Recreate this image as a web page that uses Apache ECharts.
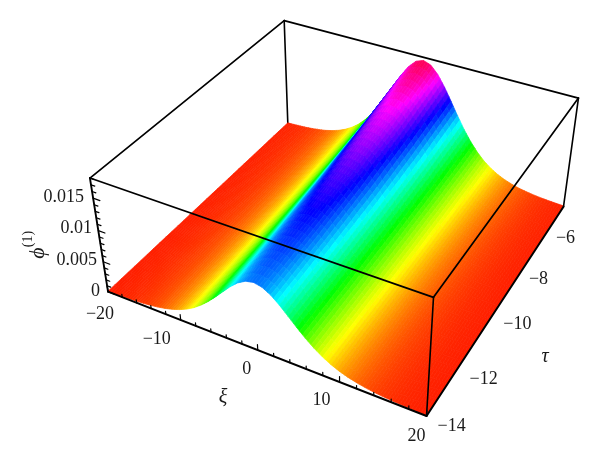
<!DOCTYPE html>
<html><head><meta charset="utf-8">
<style>html,body{margin:0;padding:0;background:#fff}#c{width:600px;height:469px}</style>
<script src="https://cdn.jsdelivr.net/npm/echarts@6/dist/echarts.min.js"></script>
</head><body><div id="c"></div>
<script>
const xiValues=[-20,-19,-18,-17,-16,-15,-14,-13,-12,-11,-10,-9,-8,-7,-6,-5,-4,-3,-2,-1,0,1,2,3,4,5,6,7,8,9,10,11,12,13,14,15,16,17,18,19,20];
const tauValues=[-14,-12,-10,-8,-6];
const phiTauM14=[.00008,.00011,.00016,.00021,.00029,.00039,.00053,.00072,.00098,.00131,.00175,.00232,.00304,.00394,.005,.0062,.00748,.00874,.00981,.01054,.0108,.01054,.00981,.00874,.00748,.0062,.005,.00394,.00304,.00232,.00175,.00131,.00098,.00072,.00053,.00039,.00029,.00021,.00016,.00011,.00008];
const phiTauM12=[.00009,.00013,.00017,.00024,.00032,.00044,.00059,.0008,.00108,.00146,.00194,.00257,.00338,.00438,.00555,.00689,.00831,.00971,.0109,.01171,.012,.01171,.0109,.00971,.00831,.00689,.00555,.00438,.00338,.00257,.00194,.00146,.00108,.0008,.00059,.00044,.00032,.00024,.00017,.00013,.00009];
const phiTauM10=[.0001,.00014,.00019,.00026,.00036,.00049,.00066,.0009,.00121,.00163,.00217,.00287,.00377,.00489,.0062,.00769,.00928,.01084,.01218,.01308,.0134,.01308,.01218,.01084,.00928,.00769,.0062,.00489,.00377,.00287,.00217,.00163,.00121,.0009,.00066,.00049,.00036,.00026,.00019,.00014,.0001];
const phiTauM8=[.00012,.00016,.00022,.0003,.00041,.00055,.00075,.00102,.00137,.00185,.00246,.00326,.00428,.00554,.00703,.00872,.01053,.0123,.01381,.01484,.0152,.01484,.01381,.0123,.01053,.00872,.00703,.00554,.00428,.00326,.00246,.00185,.00137,.00102,.00075,.00055,.00041,.0003,.00022,.00016,.00012];
const phiTauM6=[.00014,.00019,.00025,.00034,.00047,.00064,.00086,.00117,.00158,.00212,.00284,.00375,.00493,.00638,.0081,.01005,.01213,.01416,.0159,.01708,.0175,.01708,.0159,.01416,.01213,.01005,.0081,.00638,.00493,.00375,.00284,.00212,.00158,.00117,.00086,.00064,.00047,.00034,.00025,.00019,.00014];
const phiRows=[phiTauM14,phiTauM12,phiTauM10,phiTauM8,phiTauM6];
const xiTicks=[-20,-10,0,10,20];
const tauTicks=[-14,-12,-10,-8,-6];
const phiTicks=[0,0.005,0.01,0.015];
const phiTickText=['0','0.005','0.01','0.015'];

const XI=[-20,20],TAU=[-14,-6],PHI=[0,0.018],PEAK=0.0175;
// calibration of the view: box corner (xi index, tau index, phi index) -> pixel
const calib=[[0,0,0,108,292],[1,0,0,427,416],[1,1,0,563,207],[0,1,0,288,123],[0,0,1,90,178],[1,0,1,433,297],[1,1,1,579,98],[0,1,1,284,21]];
function solve(A,b){const n=b.length;for(let i=0;i<n;i++){let m=i;for(let r=i+1;r<n;r++)if(Math.abs(A[r][i])>Math.abs(A[m][i]))m=r;[A[i],A[m]]=[A[m],A[i]];[b[i],b[m]]=[b[m],b[i]];for(let r=i+1;r<n;r++){const f=A[r][i]/A[i][i];for(let c=i;c<n;c++)A[r][c]-=f*A[i][c];b[r]-=f*b[i];}}
 const x=Array(n);for(let i=n-1;i>=0;i--){let s=b[i];for(let c=i+1;c<n;c++)s-=A[i][c]*x[c];x[i]=s/A[i][i];}return x;}
const P=(function(){const n=11,A=[...Array(n)].map(()=>Array(n).fill(0)),b=Array(n).fill(0);
 const add=(r,v)=>{for(let i=0;i<n;i++){for(let j=0;j<n;j++)A[i][j]+=r[i]*r[j];b[i]+=r[i]*v;}};
 calib.forEach(([X,Y,Z,u,v])=>{add([X,Y,Z,1,0,0,0,0,-u*X,-u*Y,-u*Z],u);add([0,0,0,0,X,Y,Z,1,-v*X,-v*Y,-v*Z],v);});
 return solve(A,b);})();
function proj(xi,tau,phi){const X=(xi-XI[0])/(XI[1]-XI[0]),Y=(tau-TAU[0])/(TAU[1]-TAU[0]),Z=(phi-PHI[0])/(PHI[1]-PHI[0]);
 const w=P[8]*X+P[9]*Y+P[10]*Z+1;return [(P[0]*X+P[1]*Y+P[2]*Z+P[3])/w,(P[4]*X+P[5]*Y+P[6]*Z+P[7])/w];}
function color(z){const h=(0.015+Math.min(1,Math.max(0,z/PEAK))*0.935)*360;return 'hsl('+h.toFixed(1)+',100%,50%)';}
const SUBX=3,SUBT=8;
function surfaceItem(params,api){
 const i=api.value(0),j=api.value(1);
 const x0=xiValues[i],x1=xiValues[i+1],t0=tauValues[j],t1=tauValues[j+1];
 const r0=phiRows[j],r1=phiRows[j+1];
 const f=(u,v)=>{const a=r0[i]*(1-u)+r0[i+1]*u,c=r1[i]*(1-u)+r1[i+1]*u;return a*(1-v)+c*v;};
 const pt=(u,v)=>api.coord(proj(x0+(x1-x0)*u,t0+(t1-t0)*v,f(u,v)));
 const children=[];
 for(let b=SUBT-1;b>=0;b--)for(let a=0;a<SUBX;a++){
  const u0=a/SUBX,u1=(a+1)/SUBX,v0=b/SUBT,v1=(b+1)/SUBT;
  const col=color(f((u0+u1)/2,(v0+v1)/2));
  children.push({type:'polygon',shape:{points:[pt(u0,v0),pt(u1,v0),pt(u1,v1),pt(u0,v1)]},style:{fill:col,stroke:col,lineWidth:0.7}});
 }
 return {type:'group',children};
}
function line(api,a,b,w){const p=api.coord(proj(...a)),q=api.coord(proj(...b));
 return {type:'line',shape:{x1:p[0],y1:p[1],x2:q[0],y2:q[1]},style:{stroke:'#000',lineWidth:w,lineCap:'round'}};}
const FF='"Liberation Serif","Times New Roman",serif';
function txt(api,s,x,y,opt){const o=opt||{};const size=o.size||18;const st=o.italic?'italic ':'';
 return {type:'text',x,y,rotation:o.rot||0,style:{text:s,x:0,y:0,fill:'#1a1a1a',font:st+size+'px '+FF,align:o.align||'center',verticalAlign:'middle'}};}
const M='\u2212',fmt=v=>(v<0?M+(-v):''+v);
function backFrame(params,api){return {type:'group',children:[line(api,[-20,-6,0],[-20,-6,0.018],1.6)]};}
function frontFrame(params,api){
 const c=[];const T=0.018,a=-20,b=20,t0=-14,t1=-6;
 c.push(line(api,[a,t0,T],[b,t0,T],1.7),line(api,[b,t0,T],[b,t1,T],1.7),line(api,[b,t1,T],[a,t1,T],1.7),line(api,[a,t1,T],[a,t0,T],1.7));
 c.push(line(api,[a,t0,0],[a,t0,T],1.9),line(api,[b,t0,0],[b,t0,T],1.6),line(api,[b,t1,0],[b,t1,T],1.6));
 c.push(line(api,[a,t0,0],[b,t0,0],2),line(api,[b,t0,0],[b,t1,0],2));
 for(let x=-20;x<=20;x+=2){const maj=x%10===0;c.push(line(api,[x,t0,0],[x,t0,maj?0.0009:0.0005],1.2));}
 for(let k=0;k<=18;k++){const z=k/1000,maj=k%5===0;c.push(line(api,[a,t0,z],[a+(maj?0.9:0.5),t0,z],1.2));}
 const xiOff={'-20':[-8,23],'-10':[-24,19],'0':[-11,19],'10':[-18,18],'20':[-10,20]};
 xiTicks.forEach(v=>{const p=api.coord(proj(v,t0,0)),o=xiOff[v];c.push(txt(api,fmt(v),p[0]+o[0],p[1]+o[1]));});
 const tauOff={'-14':[25,10],'-12':[17,24],'-10':[15,24],'-8':[4,28],'-6':[2,32]};
 tauTicks.forEach(v=>{const p=api.coord(proj(b,v,0)),o=tauOff[v];c.push(txt(api,fmt(v),p[0]+o[0],p[1]+o[1]));});
 const phiRight=[100,97,92,84],phiY=[291,260,228,197];
 phiTicks.forEach((v,n)=>{c.push(txt(api,phiTickText[n],phiRight[n],phiY[n],{align:'right'}));});
 c.push(txt(api,'\u03be',223,398,{italic:true,size:20}));
 c.push(txt(api,'\u03c4',545,357,{italic:true,size:20}));
 c.push(txt(api,'\u03d5',38,253,{rot:Math.PI/2,italic:true,size:22}));
 c.push(txt(api,'(1)',28,239,{rot:Math.PI/2,size:14}));
 return {type:'group',children:c};
}
const cells=[];
for(let j=tauValues.length-2;j>=0;j--)for(let i=0;i<xiValues.length-1;i++)cells.push([i,j]);
const chart=echarts.init(document.getElementById('c'),null,{renderer:'canvas'});
chart.setOption({animation:false,backgroundColor:'#fff',
 grid:{left:0,right:0,top:0,bottom:0},
 xAxis:{type:'value',min:0,max:600,show:false},
 yAxis:{type:'value',min:0,max:469,inverse:true,show:false},
 series:[
  {type:'custom',silent:true,clip:false,progressive:0,z:1,data:[[0,0]],renderItem:backFrame},
  {type:'custom',silent:true,clip:false,progressive:0,z:2,data:cells,encode:{x:0,y:1},renderItem:surfaceItem},
  {type:'custom',silent:true,clip:false,progressive:0,z:3,data:[[0,0]],renderItem:frontFrame}
 ]});
</script></body></html>
